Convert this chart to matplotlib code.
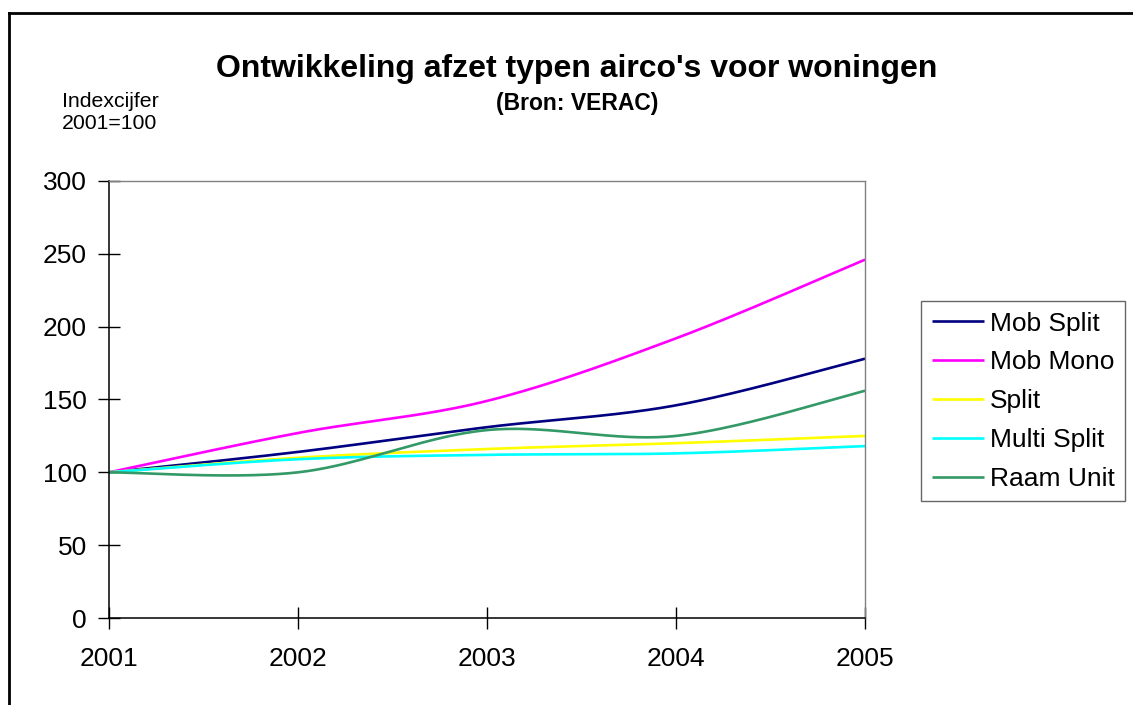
import numpy as np
import matplotlib
matplotlib.use("Agg")
import matplotlib.pyplot as plt
from matplotlib.lines import Line2D

plt.rcParams['font.family'] = ['Liberation Sans', 'DejaVu Sans']

years = [2001, 2002, 2003, 2004, 2005]
mob_split = [100, 114, 131, 146, 178]
mob_mono = [100, 127, 149, 192, 246]
split = [100, 110, 116, 120, 125]
multi_split = [100, 109, 112, 113, 118]
raam_unit = [100, 100, 129, 125, 156]

series = [
    ('Mob Split', mob_split, '#000080'),
    ('Mob Mono', mob_mono, '#FF00FF'),
    ('Split', split, '#FFFF00'),
    ('Multi Split', multi_split, '#00FFFF'),
    ('Raam Unit', raam_unit, '#339966'),
]


def smooth(xs, ys, n=60):
    """Bezier smoothing through all points (spreadsheet-style smoothed line)."""
    p = np.column_stack([xs, ys]).astype(float)
    out = []
    for i in range(len(p) - 1):
        p0 = p[i - 1] if i > 0 else p[i]
        p1, p2 = p[i], p[i + 1]
        p3 = p[i + 2] if i + 2 < len(p) else p[i + 1]
        c1 = p1 + (p2 - p0) / 6
        c2 = p2 - (p3 - p1) / 6
        t = np.linspace(0, 1, n)[:, None]
        seg = ((1 - t) ** 3 * p1 + 3 * (1 - t) ** 2 * t * c1
               + 3 * (1 - t) * t ** 2 * c2 + t ** 3 * p2)
        out.append(seg if i == 0 else seg[1:])
    out = np.vstack(out)
    return out[:, 0], out[:, 1]


fig = plt.figure(figsize=(11.33, 7.05), dpi=100)
ax = fig.add_axes([0.0962, 0.1234, 0.6673, 0.6199])

for label, vals, col in series:
    sx, sy = smooth(years, vals)
    ax.plot(sx, sy, color=col, lw=1.9, label=label, solid_capstyle='butt')

ax.set_xlim(2001, 2005)
ax.set_ylim(0, 300)
ax.set_xticks(years)
ax.set_yticks(range(0, 301, 50))
ax.tick_params(axis='both', direction='inout', length=16, width=1,
               labelsize=19, colors='black')
ax.tick_params(axis='x', pad=13)
ax.tick_params(axis='y', pad=8)
for side in ('left', 'bottom'):
    ax.spines[side].set_color('black')
    ax.spines[side].set_linewidth(1.1)
for side in ('top', 'right'):
    ax.spines[side].set_color('#808080')
    ax.spines[side].set_linewidth(1.0)

leg = ax.legend(loc='upper left', bbox_to_anchor=(1.074, 0.725), fontsize=19,
                frameon=True, fancybox=False, handlelength=2.0, handletextpad=0.2,
                borderpad=0.4, labelspacing=0.56, borderaxespad=0)
leg.get_frame().set_edgecolor('#404040')
leg.get_frame().set_linewidth(1.0)

fig.text(0.509, 0.902, "Ontwikkeling afzet typen airco's voor woningen",
         ha='center', va='center', fontsize=23, fontweight='bold')
fig.text(0.509, 0.853, "(Bron: VERAC)", ha='center', va='center',
         fontsize=16.5, fontweight='bold')
fig.text(0.055, 0.841, "Indexcijfer\n2001=100", ha='left', va='center',
         fontsize=15.3, linespacing=1.2)

# outer chart frame (only top and left edges fall inside the image)
fig.add_artist(Line2D([0.008, 1.0], [0.981, 0.981], color='black', lw=2,
                      transform=fig.transFigure))
fig.add_artist(Line2D([0.008, 0.008], [0.0, 0.981], color='black', lw=2,
                      transform=fig.transFigure))

fig.savefig('out.png', dpi=100)
